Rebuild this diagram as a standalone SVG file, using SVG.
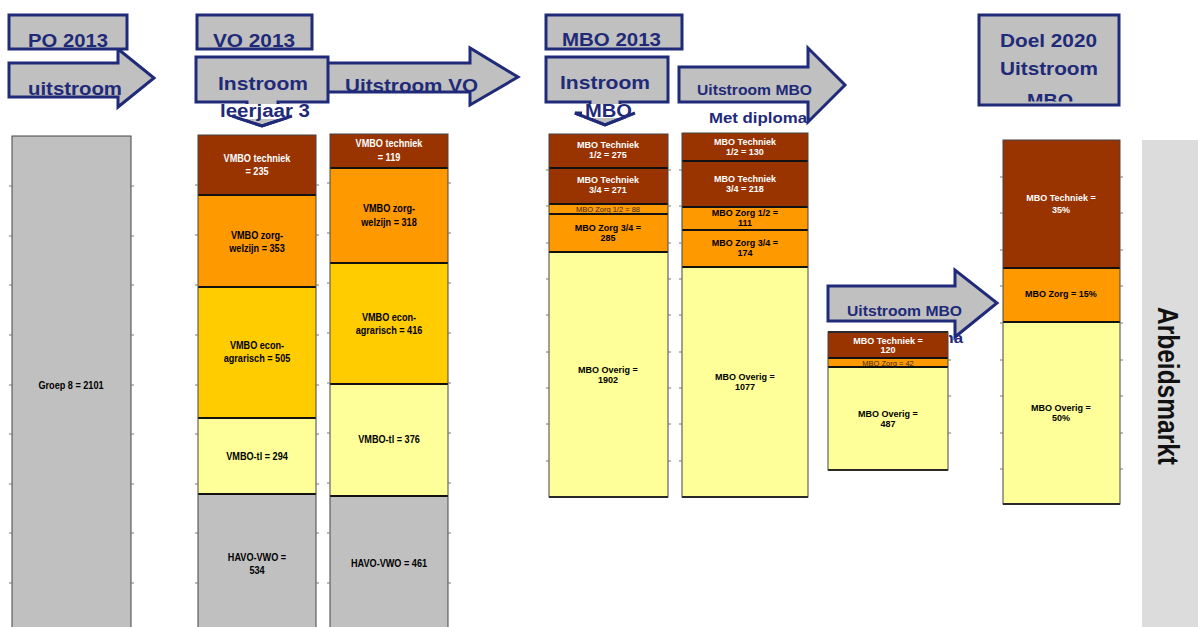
<svg xmlns="http://www.w3.org/2000/svg" width="1198" height="627" viewBox="0 0 1198 627">
<style>
.hbox{fill:#C0C0C0;stroke:#1F2A78;stroke-width:3}
.hd{font-family:"Liberation Sans",Arial,sans-serif;font-weight:bold;font-size:18px;fill:#1F2A78}
.hs{font-size:14px}
.tech{fill:#993300}.zorg{fill:#FF9900}.econ{fill:#FFCC00}.tl{fill:#FFFF99}.gry{fill:#C0C0C0}
.sep{stroke:#111;stroke-width:2}
.out{fill:none;stroke:#444;stroke-width:1}
.tick{stroke:#777;stroke-width:1;fill:none}
.lv{font-family:"Liberation Sans",Arial,sans-serif;font-weight:bold;font-size:11px;text-anchor:middle}
.lm{font-family:"Liberation Sans",Arial,sans-serif;font-weight:bold;font-size:9px;text-anchor:middle}
.ls{font-family:"Liberation Sans",Arial,sans-serif;font-size:7.5px;text-anchor:middle;fill:#3a2a10}
.w{fill:#fff}.k{fill:#000}
</style>
<defs>
<clipPath id="doelclip"><rect x="980" y="16" width="138" height="85.5"/></clipPath>
<clipPath id="mdclip"><rect x="949" y="322" width="30" height="30"/></clipPath>
</defs>
<rect width="1198" height="627" fill="#fff"/>

<g id="arbeidsmarkt">
<rect x="1142" y="140" width="56" height="487" fill="#DCDCDC"/>
<text transform="translate(1158,386) rotate(90)" font-family="Liberation Sans,Arial,sans-serif" font-weight="bold" font-size="30" text-anchor="middle" fill="#111" textLength="158" lengthAdjust="spacingAndGlyphs">Arbeidsmarkt</text>
</g>

<g id="bar-po">
<rect class="gry" x="12" y="136" width="119" height="494"/>
<rect class="out" x="12" y="136" width="119" height="494"/>
<path class="tick" d="M9,186h3M9,236h3M9,285h3M9,335h3M9,385h3M9,434h3M9,484h3M9,533h3M9,583h3M131,186h3M131,236h3M131,285h3M131,335h3M131,385h3M131,434h3M131,484h3M131,533h3M131,583h3"/>
<text class="lv k" transform="translate(71,389) scale(0.83,1)">Groep 8 = 2101</text>
</g>

<g id="bar-vo-in">
<rect class="tech" x="198" y="135" width="118" height="60"/>
<rect class="zorg" x="198" y="195" width="118" height="92"/>
<rect class="econ" x="198" y="287" width="118" height="131"/>
<rect class="tl" x="198" y="418" width="118" height="76"/>
<rect class="gry" x="198" y="494" width="118" height="136"/>
<path class="sep" d="M198,195H316M198,287H316M198,418H316M198,494H316"/>
<rect class="out" x="198" y="135" width="118" height="495"/>
<path class="tick" d="M195,185h3M195,235h3M195,285h3M195,335h3M195,385h3M195,434h3M195,484h3M195,533h3M195,583h3M316,185h3M316,235h3M316,285h3M316,335h3M316,385h3M316,434h3M316,484h3M316,533h3M316,583h3"/>
<text class="lv w" transform="translate(257,162) scale(0.83,1)">VMBO techniek</text>
<text class="lv w" transform="translate(257,175) scale(0.83,1)">= 235</text>
<text class="lv k" transform="translate(257,239) scale(0.83,1)">VMBO zorg-</text>
<text class="lv k" transform="translate(257,252) scale(0.83,1)">welzijn = 353</text>
<text class="lv k" transform="translate(257,349) scale(0.83,1)">VMBO econ-</text>
<text class="lv k" transform="translate(257,362) scale(0.83,1)">agrarisch = 505</text>
<text class="lv k" transform="translate(257,460) scale(0.83,1)">VMBO-tl = 294</text>
<text class="lv k" transform="translate(257,561) scale(0.83,1)">HAVO-VWO =</text>
<text class="lv k" transform="translate(257,574) scale(0.83,1)">534</text>
</g>

<g id="bar-vo-uit">
<rect class="tech" x="330" y="134" width="118" height="34"/>
<rect class="zorg" x="330" y="168" width="118" height="95"/>
<rect class="econ" x="330" y="263" width="118" height="121"/>
<rect class="tl" x="330" y="384" width="118" height="112"/>
<rect class="gry" x="330" y="496" width="118" height="134"/>
<path class="sep" d="M330,168H448M330,263H448M330,384H448M330,496H448"/>
<rect class="out" x="330" y="134" width="118" height="496"/>
<path class="tick" d="M327,183h3M327,233h3M327,283h3M327,333h3M327,383h3M327,433h3M327,483h3M327,533h3M327,583h3M448,183h3M448,233h3M448,283h3M448,333h3M448,383h3M448,433h3M448,483h3M448,533h3M448,583h3"/>
<text class="lv w" transform="translate(389,147) scale(0.83,1)">VMBO techniek</text>
<text class="lv w" transform="translate(389,161) scale(0.83,1)">= 119</text>
<text class="lv k" transform="translate(389,212) scale(0.83,1)">VMBO zorg-</text>
<text class="lv k" transform="translate(389,226) scale(0.83,1)">welzijn = 318</text>
<text class="lv k" transform="translate(389,321) scale(0.83,1)">VMBO econ-</text>
<text class="lv k" transform="translate(389,334) scale(0.83,1)">agrarisch = 416</text>
<text class="lv k" transform="translate(389,443) scale(0.83,1)">VMBO-tl = 376</text>
<text class="lv k" transform="translate(389,567) scale(0.83,1)">HAVO-VWO = 461</text>
</g>

<g id="bar-mbo-in">
<rect class="tech" x="549" y="134" width="119" height="70"/>
<rect class="zorg" x="549" y="204" width="119" height="48"/>
<rect class="tl" x="549" y="252" width="119" height="245"/>
<path class="sep" d="M549,168H668M549,204H668M549,214H668M549,252H668M549,497H668"/>
<rect class="out" x="549" y="134" width="119" height="363"/>
<path class="tick" d="M546,170h3M546,206h3M546,243h3M546,279h3M546,315h3M546,352h3M546,388h3M546,424h3M546,461h3M668,170h3M668,206h3M668,243h3M668,279h3M668,315h3M668,352h3M668,388h3M668,424h3M668,461h3"/>
<text class="lm w" x="608" y="148">MBO Techniek</text>
<text class="lm w" x="608" y="158">1/2 = 275</text>
<text class="lm w" x="608" y="183">MBO Techniek</text>
<text class="lm w" x="608" y="193">3/4 = 271</text>
<text class="ls" x="608" y="212">MBO Zorg 1/2 = 88</text>
<text class="lm k" x="608" y="231">MBO Zorg 3/4 =</text>
<text class="lm k" x="608" y="241">285</text>
<text class="lm k" x="608" y="373">MBO Overig =</text>
<text class="lm k" x="608" y="383">1902</text>
</g>

<g id="bar-mbo-uit">
<rect class="tech" x="682" y="133" width="126" height="74"/>
<rect class="zorg" x="682" y="207" width="126" height="60"/>
<rect class="tl" x="682" y="267" width="126" height="230"/>
<path class="sep" d="M682,161H808M682,207H808M682,230H808M682,267H808M682,497H808"/>
<rect class="out" x="682" y="133" width="126" height="364"/>
<path class="tick" d="M679,170h3M679,206h3M679,243h3M679,279h3M679,315h3M679,352h3M679,388h3M679,424h3M679,461h3"/>
<text class="lm w" x="745" y="145">MBO Techniek</text>
<text class="lm w" x="745" y="155">1/2 = 130</text>
<text class="lm w" x="745" y="182">MBO Techniek</text>
<text class="lm w" x="745" y="192">3/4 = 218</text>
<text class="lm k" x="745" y="216">MBO Zorg 1/2 =</text>
<text class="lm k" x="745" y="226">111</text>
<text class="lm k" x="745" y="246">MBO Zorg 3/4 =</text>
<text class="lm k" x="745" y="256">174</text>
<text class="lm k" x="745" y="380">MBO Overig =</text>
<text class="lm k" x="745" y="390">1077</text>
</g>

<g id="bar-doel">
<rect class="tech" x="1003" y="140" width="117" height="128"/>
<rect class="zorg" x="1003" y="268" width="117" height="54"/>
<rect class="tl" x="1003" y="322" width="117" height="182"/>
<path class="sep" d="M1003,268H1120M1003,322H1120M1003,504H1120"/>
<rect class="out" x="1003" y="140" width="117" height="364"/>
<path class="tick" d="M1000,177h3M1000,213h3M1000,250h3M1000,286h3M1000,323h3M1000,360h3M1000,396h3M1000,433h3M1000,469h3M1120,177h3M1120,213h3M1120,250h3M1120,286h3M1120,323h3M1120,360h3M1120,396h3M1120,433h3M1120,469h3"/>
<text class="lm w" x="1061" y="201">MBO Techniek =</text>
<text class="lm w" x="1061" y="213">35%</text>
<text class="lm k" x="1061" y="297">MBO Zorg = 15%</text>
<text class="lm k" x="1061" y="411">MBO Overig =</text>
<text class="lm k" x="1061" y="421">50%</text>
</g>

<g id="connectors">
<g id="arrow-po-uitstroom">
<polygon class="hbox" points="9,63 118,63 118,49 154,78 118,107 118,97 9,97"/>
<text class="hd" x="28" y="95" textLength="94" lengthAdjust="spacingAndGlyphs">uitstroom</text>
</g>
<g id="arrow-uitstroom-vo">
<polygon class="hbox" points="327,63 470,63 470,48 518,77 470,105 470,92 327,92"/>
<text class="hd" x="345" y="92" textLength="133" lengthAdjust="spacingAndGlyphs">Uitstroom VO</text>
</g>
<g id="arrow-uitstroom-mbo">
<polygon class="hbox" points="679,67 808,67 808,48 845,85 808,122 808,102 679,102"/>
<text class="hd hs" x="697" y="95" textLength="115" lengthAdjust="spacingAndGlyphs">Uitstroom MBO</text>
<text class="hd hs" x="709" y="123" textLength="98" lengthAdjust="spacingAndGlyphs">Met diploma</text>
</g>
<g id="arrow-uitstroom-mbo-2">
<polygon class="hbox" points="828,286 955,286 955,270 997,303 955,337 955,321 828,321"/>
<text class="hd" x="847" y="316" textLength="115" lengthAdjust="spacingAndGlyphs" style="font-size:15px">Uitstroom MBO</text>
<g clip-path="url(#mdclip)">
<text class="hd hs" x="865" y="343" textLength="98" lengthAdjust="spacingAndGlyphs">Met diploma</text>
</g>
</g>
</g>

<g id="bar-mbo-zonder">
<rect class="tech" x="828" y="332" width="120" height="26"/>
<rect class="zorg" x="828" y="358" width="120" height="9"/>
<rect class="tl" x="828" y="367" width="120" height="103"/>
<path class="sep" d="M828,332H948M828,358H948M828,367H948M828,470H948"/>
<rect class="out" x="828" y="332" width="120" height="138"/>
<path class="tick" d="M948,360h3M948,396h3M948,433h3"/>
<text class="lm w" x="888" y="344">MBO Techniek =</text>
<text class="lm w" x="888" y="353">120</text>
<text class="ls" x="888" y="366">MBO Zorg = 42</text>
<text class="lm k" x="888" y="417">MBO Overig =</text>
<text class="lm k" x="888" y="427">487</text>
</g>

<g id="box-po">
<rect class="hbox" x="9" y="15" width="118" height="34"/>
<text class="hd" x="28" y="47" textLength="80" lengthAdjust="spacingAndGlyphs">PO 2013</text>
</g>
<g id="box-vo">
<rect class="hbox" x="197" y="15" width="115" height="34"/>
<text class="hd" x="213" y="47" textLength="82" lengthAdjust="spacingAndGlyphs">VO 2013</text>
</g>
<g id="box-instroom-vo">
<path class="hbox" d="M196,57H328V102H278V116H292L262,126L232,116H247V102H196Z"/>
<rect x="216" y="104" width="98" height="15" fill="#fff"/>
<text class="hd" x="218" y="90" textLength="90" lengthAdjust="spacingAndGlyphs">Instroom</text>
<text class="hd" x="220" y="117" textLength="90" lengthAdjust="spacingAndGlyphs">leerjaar 3</text>
<path d="M232,116L262,126L292,116" fill="none" stroke="#1F2A78" stroke-width="3"/>
</g>
<g id="box-mbo">
<rect class="hbox" x="546" y="15" width="136" height="34"/>
<text class="hd" x="562" y="46" textLength="99" lengthAdjust="spacingAndGlyphs">MBO 2013</text>
</g>
<g id="box-instroom-mbo">
<path class="hbox" d="M546,57H668V102H620V113H635L605,125L575,113H590V102H546Z"/>
<rect x="582" y="104" width="54" height="14" fill="#fff"/>
<text class="hd" x="560" y="89" textLength="90" lengthAdjust="spacingAndGlyphs">Instroom</text>
<text class="hd" x="585" y="117" textLength="47" lengthAdjust="spacingAndGlyphs">MBO</text>
<path d="M575,113L605,125L635,113" fill="none" stroke="#1F2A78" stroke-width="3"/>
</g>
<g id="box-doel">
<rect class="hbox" x="979" y="15" width="140" height="90"/>
<g clip-path="url(#doelclip)">
<text class="hd" x="1000" y="47" textLength="97" lengthAdjust="spacingAndGlyphs">Doel 2020</text>
<text class="hd" x="1000" y="75" textLength="98" lengthAdjust="spacingAndGlyphs">Uitstroom</text>
<text class="hd" x="1027" y="107" textLength="46" lengthAdjust="spacingAndGlyphs">MBO</text>
</g>
</g>
</svg>
